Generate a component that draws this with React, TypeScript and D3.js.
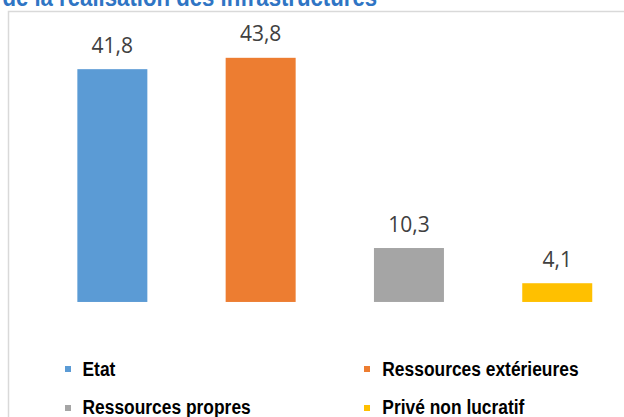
import React from "react";
import * as d3 from "d3";

const categories = ["Etat", "Ressources extérieures", "Ressources propres", "Privé non lucratif"];
const values = [41.8, 43.8, 10.3, 4.1];
const colors = ["#5B9BD5", "#ED7D31", "#A5A5A5", "#FFC000"];
const title = "de la réalisation des infrastructures";

const W = 624;
const H = 417;

export default function App() {
  const x = d3
    .scaleBand<string>()
    .domain(categories)
    .range([38.2, 631.4])
    .paddingInner(0.528)
    .paddingOuter(0.264);
  const y = d3.scaleLinear().domain([0, 45]).range([306.5, 51.0]);
  const base = y(0.8);
  const fmt = (v: number) => d3.format(".1f")(v).replace(".", ",");

  const legendPos = [
    { mx: 65, my: 366, tx: 82.5, ty: 376.3 },
    { mx: 364, my: 366, tx: 382.3, ty: 376.3 },
    { mx: 65, my: 405, tx: 82.5, ty: 413.6 },
    { mx: 364, my: 405, tx: 382.3, ty: 413.6 },
  ];

  return (
    <svg
      width={W}
      height={H}
      style={{ position: "absolute", left: 0, top: 0, background: "#fff" }}
    >
      <rect x={0} y={0} width={W} height={H} fill="#fff" />
      <text
        x={2.4}
        y={0}
        transform="translate(0,5.5) scale(1,1.12)"
        fontFamily="Liberation Sans, Arial, sans-serif"
        fontWeight="bold"
        fontSize={22.2}
        fill="#2F75C4"
      >
        {title}
      </text>
      <rect x={8.5} y={11.5} width={W + 20} height={H + 20} fill="none" stroke="#D9D9D9" strokeWidth={1.5} />
      {categories.map((c, i) => (
        <g key={c}>
          <rect
            x={x(c)}
            y={y(values[i])}
            width={x.bandwidth()}
            height={base - y(values[i])}
            fill={colors[i]}
          />
          <text
            x={(x(c) as number) + x.bandwidth() / 2}
            y={y(values[i]) - 16.5}
            textAnchor="middle"
            fontFamily="Open Sans, sans-serif"
            fontSize={21}
            fill="#404040"
          >
            {fmt(values[i])}
          </text>
        </g>
      ))}
      {categories.map((c, i) => (
        <g key={"l" + c}>
          <rect x={legendPos[i].mx} y={legendPos[i].my} width={6} height={6} fill={colors[i]} />
          <text
            x={0}
            y={0}
            transform={`translate(${legendPos[i].tx},${legendPos[i].ty}) scale(1,1.12)`}
            fontFamily="Liberation Sans, Arial, sans-serif"
            fontWeight="bold"
            fontSize={17.4}
            fill="#000"
          >
            {c}
          </text>
        </g>
      ))}
    </svg>
  );
}
